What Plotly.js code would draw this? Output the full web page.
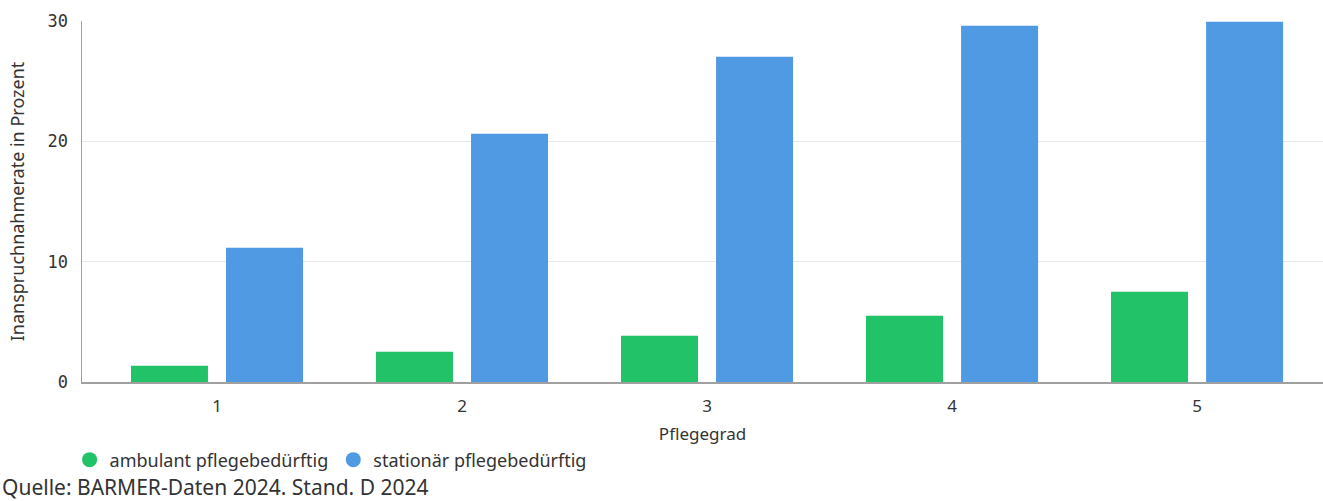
<!DOCTYPE html>
<html>
<head>
<meta charset="utf-8">
<script src="https://cdn.plot.ly/plotly-3.0.1.min.js"></script>
<style>
  html, body { margin: 0; padding: 0; background: #ffffff; }
  #chart { width: 1323px; height: 501px; }
</style>
</head>
<body>
<div id="chart"></div>
<script>
// Inanspruchnahmerate nach Pflegegrad (Prozent)
const pflegegrade = ['1', '2', '3', '4', '5'];
const ambulant = [1.35, 2.52, 3.85, 5.5, 7.5];
const stationaer = [11.15, 20.62, 27.02, 29.6, 29.93];
const seriesNames = ['ambulant pflegebedürftig', 'stationär pflegebedürftig'];
const seriesColors = ['#22c268', '#5099e3'];
const yTicks = [0, 10, 20, 30];
const sourceNote = 'Quelle: BARMER-Daten 2024. Stand. D 2024';

const textColor = '#333333';
const sans = '"Noto Sans", "Open Sans", sans-serif';
const mono = '"DejaVu Sans Mono", monospace';

const barTraces = [ambulant, stationaer].map((vals, i) => ({
  type: 'bar',
  x: pflegegrade,
  y: vals,
  name: seriesNames[i],
  marker: { color: seriesColors[i] },
  showlegend: false,
  hoverinfo: 'x+y'
}));

// legend entries drawn as round markers
const legendTraces = seriesNames.map((n, i) => ({
  type: 'scatter',
  mode: 'markers',
  x: [null],
  y: [null],
  name: n,
  marker: { color: seriesColors[i], size: 15, symbol: 'circle' },
  showlegend: true
}));

const layout = {
  width: 1323,
  height: 501,
  margin: { l: 82, r: 0, t: 21, b: 119 },
  paper_bgcolor: '#ffffff',
  plot_bgcolor: '#ffffff',
  barmode: 'group',
  bargap: 0.224,
  bargroupgap: 0.19,
  font: { family: sans, color: textColor, size: 17 },
  xaxis: {
    type: 'category',
    range: [-0.551, 4.514],
    showgrid: false,
    showline: true,
    linecolor: '#a0a0a0',
    linewidth: 1.5,
    ticks: '',
    ticklabelstandoff: 8,
    tickfont: { family: sans, size: 17, color: textColor },
    title: { text: 'Pflegegrad', font: { family: sans, size: 17, color: textColor }, standoff: 12 },
    zeroline: false,
    fixedrange: true
  },
  yaxis: {
    range: [0, 30],
    tickvals: yTicks,
    ticktext: yTicks.map(String),
    showgrid: true,
    gridcolor: '#e6e6e6',
    gridwidth: 1.5,
    showline: true,
    linecolor: '#a0a0a0',
    linewidth: 1.5,
    zeroline: false,
    ticks: '',
    ticklabelstandoff: 9,
    tickfont: { family: mono, size: 17, color: textColor },
    title: { text: 'Inanspruchnahmerate in Prozent', font: { family: sans, size: 18, color: textColor }, standoff: 18 },
    fixedrange: true
  },
  legend: {
    orientation: 'h',
    x: -0.01,
    xanchor: 'left',
    y: -0.216,
    yanchor: 'middle',
    font: { family: sans, size: 18, color: textColor },
    itemclick: false,
    itemdoubleclick: false
  },
  annotations: [{
    text: sourceNote,
    xref: 'paper',
    yref: 'paper',
    x: 0,
    xshift: -82,
    xanchor: 'left',
    y: -0.29,
    yanchor: 'middle',
    showarrow: false,
    font: { family: sans, size: 21, color: textColor }
  }]
};

Plotly.newPlot('chart', barTraces.concat(legendTraces), layout, { displayModeBar: false, staticPlot: true });
</script>
</body>
</html>
